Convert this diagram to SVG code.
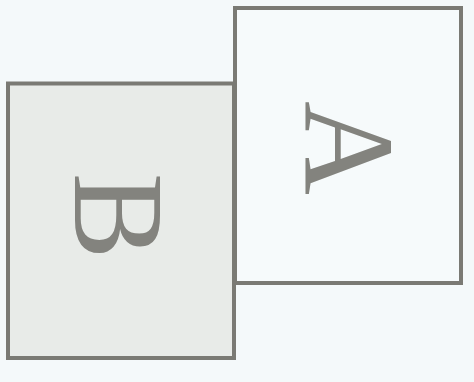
<svg xmlns="http://www.w3.org/2000/svg" width="474" height="382" viewBox="0 0 474 382">
  <style>
    .box { stroke: #7a7a74; stroke-width: 4; }
    .lbl { font-family: "Liberation Serif", "Times New Roman", serif; font-size: 130px; fill: #83837e; text-anchor: middle; }
  </style>
  <rect x="0" y="0" width="474" height="382" fill="#f4f9fa"/>
  <g id="node-B">
    <rect class="box" x="8" y="83.5" width="226" height="274.5" fill="#e8ebe8"/>
    <text class="lbl" transform="translate(75,216) rotate(90)">B</text>
  </g>
  <g id="node-A">
    <rect class="box" x="235" y="8" width="226" height="275" fill="#f6fafb"/>
    <text class="lbl" transform="translate(305,148) rotate(90)">A</text>
  </g>
  <g id="connectors"></g>
</svg>
